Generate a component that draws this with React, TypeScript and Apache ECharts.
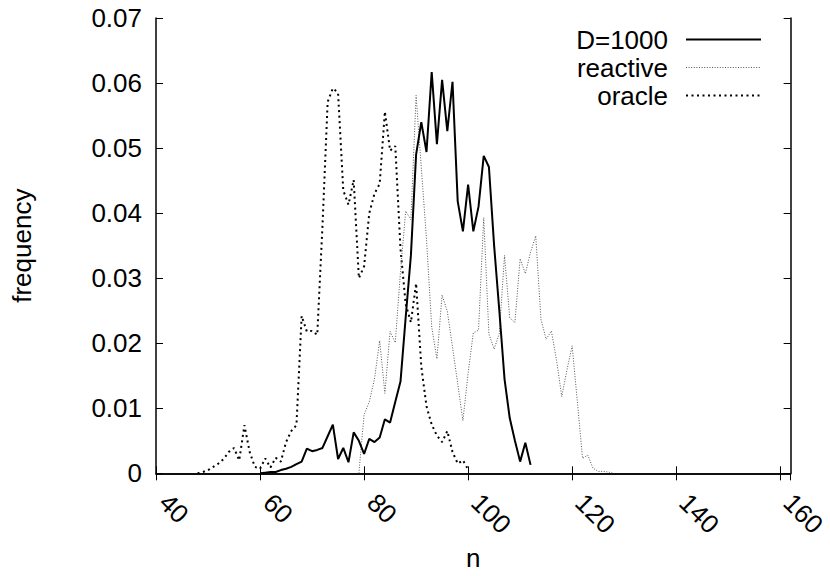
import React, { useEffect, useRef } from "react";
import * as echarts from "echarts";

// ---- data ----
const seriesNames = ["D=1000", "reactive", "oracle"];

const dStart = 60;
const dValues = [
  0, 0.0001, 0.0002, 0.0002, 0.0005, 0.0007, 0.001, 0.0014, 0.0018, 0.0038,
  0.0034, 0.0036, 0.0039, 0.0057, 0.0075, 0.0022, 0.0039, 0.0017, 0.0063, 0.005,
  0.003, 0.0053, 0.0048, 0.0055, 0.0083, 0.0078, 0.011, 0.0141, 0.024, 0.0335,
  0.049, 0.054, 0.0494, 0.0617, 0.0506, 0.0605, 0.0526, 0.0602, 0.0418, 0.0372,
  0.0444, 0.0372, 0.041, 0.0488, 0.0471, 0.035, 0.025, 0.0145, 0.0085, 0.005,
  0.0018, 0.0047, 0.0013,
];

const reactiveStart = 79;
const reactiveValues = [
  0, 0.009, 0.011, 0.0145, 0.0204, 0.0123, 0.0218, 0.0201, 0.031, 0.0403,
  0.039, 0.0581, 0.047, 0.036, 0.0225, 0.0176, 0.0274, 0.0249, 0.0194, 0.0138,
  0.0081, 0.0154, 0.0216, 0.022, 0.0393, 0.0214, 0.0191, 0.0215, 0.0335, 0.0239,
  0.0232, 0.033, 0.0307, 0.034, 0.0365, 0.0237, 0.0206, 0.0219, 0.0174, 0.0118,
  0.0159, 0.0196, 0.011, 0.0023, 0.0028, 0.0008, 0.0003, 0.0003, 0.0002, 0,
];

const oracleStart = 48;
const oracleValues = [
  0, 0.0002, 0.0005, 0.001, 0.0015, 0.0022, 0.0033, 0.0039, 0.002, 0.0074,
  0.0033, 0.001, 0.0007, 0.0023, 0.0009, 0.0024, 0.0018, 0.0048, 0.0065, 0.0074,
  0.0242, 0.0218, 0.0219, 0.0213, 0.038, 0.0571, 0.0592, 0.0585, 0.0435, 0.0413,
  0.0451, 0.03, 0.0318, 0.04, 0.043, 0.0445, 0.0556, 0.0496, 0.0503, 0.0345,
  0.026, 0.0232, 0.0292, 0.0164, 0.0103, 0.0075, 0.0058, 0.0048, 0.0065, 0.0033,
  0.0015, 0.002, 0.0006,
];

const xMin = 40;
const xMax = 162;
const xStep = 20;
const yMin = 0;
const yMax = 0.07;
const yStep = 0.01;
const xTitle = "n";
const yTitle = "frequency";

function toPairs(start: number, vals: number[]) {
  return vals.map((v, i) => [start + i, v]);
}

const FONT = "'Liberation Sans', Arial, Helvetica, sans-serif";
const FS = 26;

const styles = [
  { color: "#000", width: 2, type: "solid" as any },
  { color: "#555", width: 1, type: [1, 1.6] as any },
  { color: "#000", width: 2, type: [2, 3.5] as any },
];

export default function App() {
  const ref = useRef<HTMLDivElement>(null);
  useEffect(() => {
    const chart = echarts.init(ref.current!, null, { renderer: "svg" });
    const grid = { left: 156, right: 35, top: 18, bottom: 94 };
    const axisLine = { show: true, lineStyle: { color: "#000", width: 1.5 } };
    const tick = { show: true, inside: true, length: 7, lineStyle: { color: "#000", width: 1 } };
    const datasets = [
      toPairs(dStart, dValues),
      toPairs(reactiveStart, reactiveValues),
      toPairs(oracleStart, oracleValues),
    ];
    const rowY0 = 39.5;
    const rowGap = 28;
    const legendGraphics: any[] = [];
    seriesNames.forEach((name, i) => {
      const y = rowY0 + i * rowGap;
      legendGraphics.push({
        type: "text",
        x: 668,
        y,
        style: {
          text: name,
          fill: "#000",
          fontSize: FS,
          fontFamily: FONT,
          align: "right",
          verticalAlign: "middle",
        },
      });
      legendGraphics.push({
        type: "line",
        shape: { x1: 686, y1: y, x2: 761, y2: y },
        style: {
          stroke: styles[i].color,
          lineWidth: styles[i].width,
          lineDash: Array.isArray(styles[i].type) ? styles[i].type : null,
        },
      });
    });

    const option: any = {
      animation: false,
      backgroundColor: "#fff",
      grid,
      textStyle: { fontFamily: FONT },
      xAxis: [
        {
          type: "value",
          position: "bottom",
          min: xMin,
          max: xMax,
          interval: xStep,
          name: xTitle,
          nameLocation: "middle",
          nameGap: 66,
          nameTextStyle: { fontSize: FS, fontFamily: FONT, color: "#000" },
          axisLine,
          axisTick: tick,
          splitLine: { show: false },
          axisLabel: {
            rotate: -45,
            margin: 17,
            padding: [0, 0, 0, 11],
            fontSize: FS,
            fontFamily: FONT,
            color: "#000",
            showMaxLabel: false,
            formatter: (v: number) => (v % xStep === 0 ? String(v) : ""),
          },
        },
        {
          type: "value",
          position: "top",
          min: xMin,
          max: xMax,
          interval: xStep,
          axisLine,
          axisTick: tick,
          axisLabel: { show: false },
          splitLine: { show: false },
        },
      ],
      yAxis: [
        {
          type: "value",
          position: "left",
          min: yMin,
          max: yMax,
          interval: yStep,
          name: yTitle,
          nameLocation: "middle",
          nameRotate: 90,
          nameGap: 121,
          nameTextStyle: { fontSize: FS, fontFamily: FONT, color: "#000" },
          axisLine,
          axisTick: tick,
          splitLine: { show: false },
          axisLabel: {
            margin: 14,
            fontSize: FS,
            fontFamily: FONT,
            color: "#000",
            formatter: (v: number) => (Math.abs(v) < 1e-9 ? "0" : v.toFixed(2)),
          },
        },
        {
          type: "value",
          position: "right",
          min: yMin,
          max: yMax,
          interval: yStep,
          axisLine,
          axisTick: tick,
          axisLabel: { show: false },
          splitLine: { show: false },
        },
      ],
      series: seriesNames.map((name, i) => ({
        name,
        type: "line",
        xAxisIndex: 0,
        yAxisIndex: 0,
        data: datasets[i],
        showSymbol: false,
        symbol: "none",
        lineStyle: { color: styles[i].color, width: styles[i].width, type: styles[i].type, cap: "butt" },
        z: 3 - i,
      })),
      graphic: legendGraphics,
    };
    chart.setOption(option);
    return () => chart.dispose();
  }, []);
  return (
    <div
      ref={ref}
      style={{ position: "absolute", left: 0, top: 0, width: 830, height: 576, background: "#fff" }}
    />
  );
}
